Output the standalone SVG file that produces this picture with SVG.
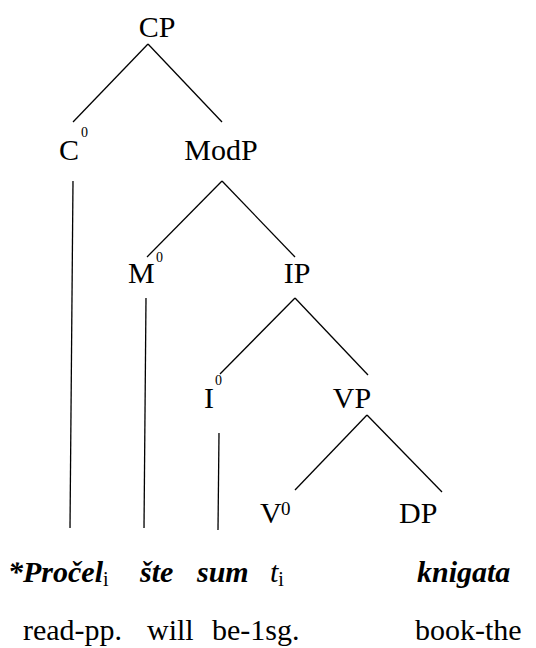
<svg xmlns="http://www.w3.org/2000/svg" width="536" height="648" viewBox="0 0 536 648" font-family="'Liberation Serif', 'DejaVu Serif', serif">
<style>
text{fill:#000}
.lab{font-size:30px}
.sup{font-size:14px}
.sup2{font-size:19px}
.bi{font-size:30px;font-weight:bold;font-style:italic}
.it{font-size:30px;font-style:italic}
.sub{font-size:20px}
.gl{font-size:30px}
line{stroke:#000;stroke-width:1.3;fill:none}
</style>
<rect width="536" height="648" fill="#fff"/>
<g id="connectors">
<line x1="148" y1="44" x2="73" y2="122"/>
<line x1="148" y1="44" x2="222" y2="122"/>
<line x1="73" y1="181" x2="70" y2="528"/>
<line x1="222" y1="181" x2="147" y2="257"/>
<line x1="222" y1="181" x2="295" y2="257"/>
<line x1="146" y1="298" x2="144" y2="528"/>
<line x1="295" y1="298" x2="220" y2="374"/>
<line x1="295" y1="298" x2="368" y2="375"/>
<line x1="219" y1="433" x2="218" y2="530"/>
<line x1="367" y1="415" x2="295" y2="490"/>
<line x1="367" y1="415" x2="442" y2="492"/>
</g>
<g id="CP"><text class="lab" x="157" y="37" text-anchor="middle">CP</text></g>
<g id="C0"><text class="lab" x="59" y="160">C</text><text class="sup" x="81" y="137">0</text></g>
<g id="ModP"><text class="lab" x="221" y="160" text-anchor="middle">ModP</text></g>
<g id="M0"><text class="lab" x="128" y="283">M</text><text class="sup" x="156" y="262">0</text></g>
<g id="IP"><text class="lab" x="297" y="283" text-anchor="middle">IP</text></g>
<g id="I0"><text class="lab" x="204" y="408">I</text><text class="sup" x="215" y="385">0</text></g>
<g id="VP"><text class="lab" x="352" y="408" text-anchor="middle">VP</text></g>
<g id="V0"><text class="lab" x="260" y="523">V</text><text class="sup2" x="281" y="515">0</text></g>
<g id="DP"><text class="lab" x="399" y="523">DP</text></g>
<g id="words">
<text x="8" y="582"><tspan class="bi">*Pročel</tspan><tspan class="sub" dy="4">i</tspan></text>
<text class="bi" x="140" y="582">šte</text>
<text class="bi" x="197" y="582">sum</text>
<text x="270" y="582"><tspan class="it">t</tspan><tspan class="sub" dy="4">i</tspan></text>
<text class="bi" x="417" y="582">knigata</text>
</g>
<g id="gloss">
<text class="gl" x="23" y="640">read-pp.</text>
<text class="gl" x="147" y="640">will</text>
<text class="gl" x="212" y="640">be-1sg.</text>
<text class="gl" x="415" y="640">book-the</text>
</g>
</svg>
